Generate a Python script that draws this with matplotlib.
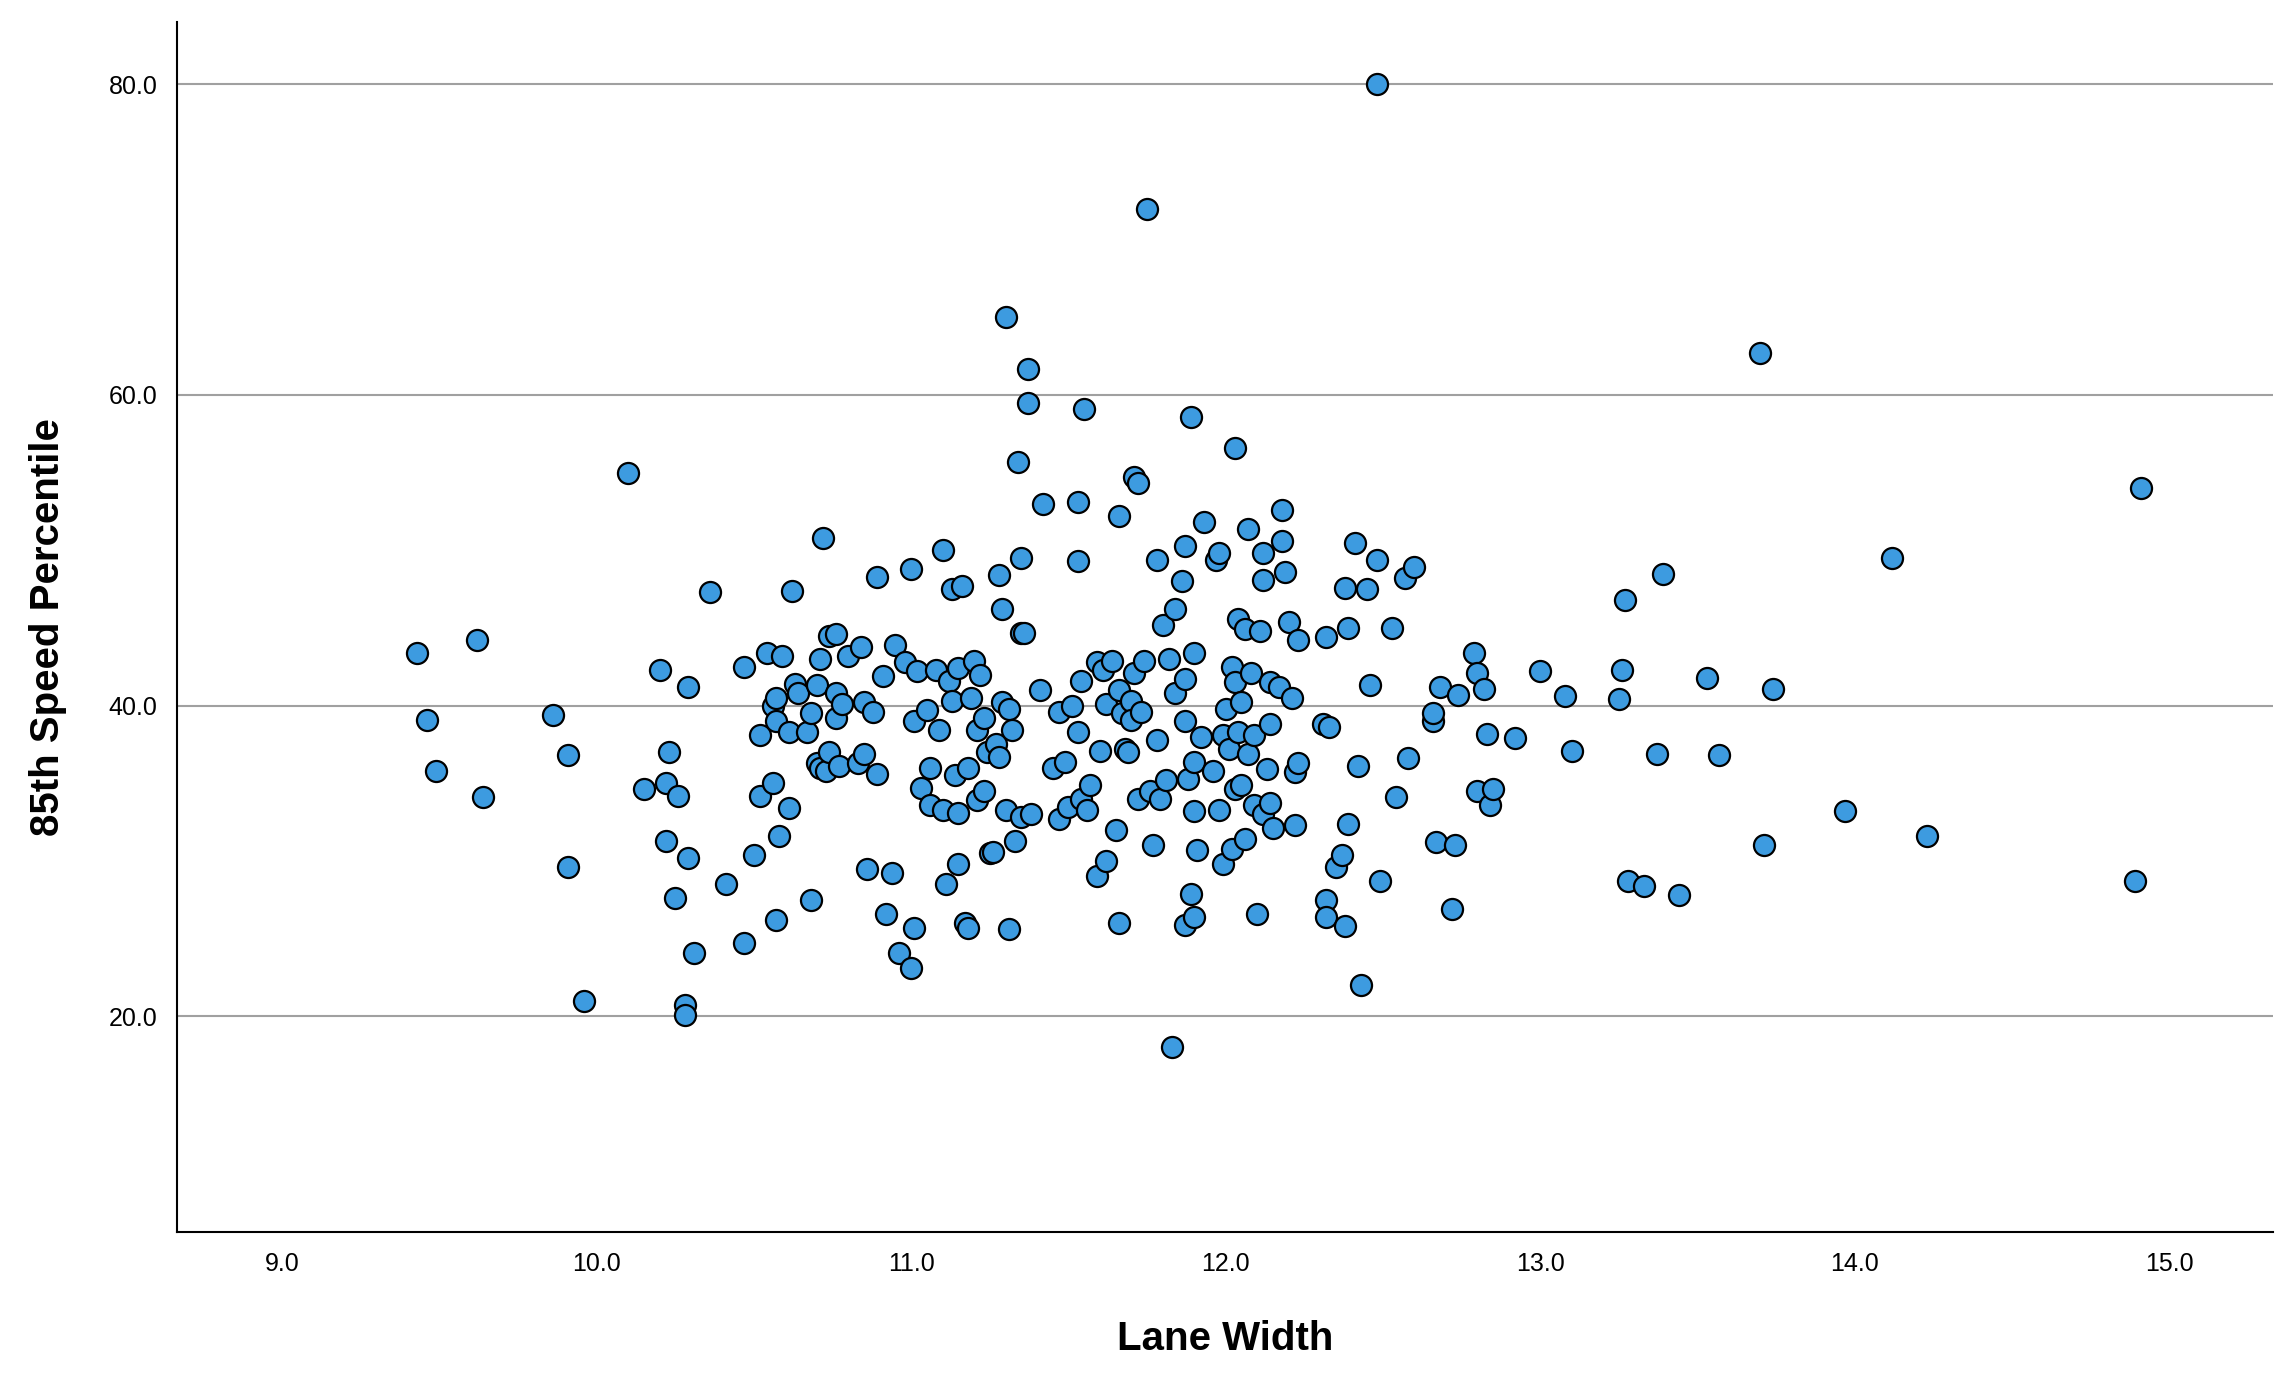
import numpy as np
import matplotlib.pyplot as plt

plt.rcParams['font.family'] = ['Liberation Sans', 'DejaVu Sans']

# Lane width (x) and 85th percentile speed (y)
pts = [
    (9.43,43.4),(9.46,39.1),(9.49,35.8),(9.62,44.2),(9.64,34.1),(9.86,39.4),(9.91,36.8),(9.91,29.6),
    (9.96,21.0),(10.1,55.0),(10.15,34.6),(10.2,42.3),(10.22,35.0),(10.23,37.0),(10.22,31.3),(10.25,27.6),
    (10.26,34.2),(10.29,41.2),(10.28,20.7),(10.28,20.1),(10.29,30.2),(10.31,24.1),(10.36,47.3),(10.41,28.5),
    (10.47,24.7),(10.47,42.5),(10.5,30.4),(10.52,34.2),(10.52,38.1),(10.54,43.4),(10.56,35.0),(10.56,40.0),
    (10.57,40.5),(10.57,39.0),(10.57,26.2),(10.58,31.6),(10.59,43.2),(10.61,33.4),(10.61,38.3),(10.62,47.4),
    (10.63,41.4),(10.64,40.8),(10.67,38.3),(10.68,27.5),(10.68,39.5),(10.7,36.3),(10.7,41.3),(10.71,36.0),
    (10.71,43.0),(10.72,50.8),(10.73,35.8),(10.74,44.5),(10.74,37.0),(10.76,44.6),(10.76,39.2),(10.76,40.8),
    (10.77,36.1),(10.78,40.1),(10.8,43.2),(10.83,36.3),(10.84,43.8),(10.85,40.2),(10.85,36.9),(10.86,29.5),
    (10.88,39.6),(10.89,48.3),(10.89,35.6),(10.91,41.9),(10.92,26.6),(10.94,29.2),(10.95,43.9),(10.96,24.1),
    (10.98,42.8),(11.0,23.1),(11.0,48.8),(11.01,25.7),(11.01,39.0),(11.02,42.2),(11.03,34.7),(11.05,39.7),
    (11.06,36.0),(11.06,33.6),(11.08,42.3),(11.09,38.4),(11.1,50.0),(11.1,33.3),(11.11,28.5),(11.12,41.6),
    (11.13,47.5),(11.13,40.3),(11.14,35.5),(11.15,42.4),(11.15,33.1),(11.15,29.8),(11.16,47.7),(11.17,26.0),
    (11.18,25.7),(11.18,36.0),(11.19,40.5),(11.2,42.9),(11.21,38.4),(11.21,33.9),(11.22,42.0),(11.23,39.2),
    (11.23,34.5),(11.24,37.0),(11.25,30.5),(11.26,30.6),(11.27,37.5),(11.28,48.4),(11.28,36.7),(11.29,46.2),
    (11.29,40.2),(11.3,65.0),(11.3,33.3),(11.31,39.8),(11.31,25.6),(11.32,38.4),(11.33,31.3),(11.34,55.7),
    (11.35,49.5),(11.35,44.7),(11.35,32.8),(11.36,44.7),(11.37,59.5),(11.37,61.7),(11.38,33.0),(11.41,41.0),
    (11.42,53.0),(11.45,36.0),(11.47,39.6),(11.47,32.7),(11.49,36.4),(11.5,33.5),(11.51,40.0),(11.53,49.3),
    (11.53,53.1),(11.53,38.3),(11.54,41.6),(11.54,34.0),(11.55,59.1),(11.56,33.3),(11.57,34.9),(11.59,42.8),
    (11.59,29.0),(11.6,37.1),(11.61,42.3),(11.62,40.1),(11.62,30.0),(11.64,42.9),(11.65,32.0),(11.66,26.0),
    (11.66,52.2),(11.66,41.0),(11.67,39.5),(11.68,37.2),(11.69,37.0),(11.7,40.3),(11.7,39.1),(11.71,54.7),
    (11.71,42.1),(11.72,34.0),(11.72,54.3),(11.73,39.6),(11.74,42.9),(11.75,72.0),(11.76,34.5),(11.77,31.0),
    (11.78,49.4),(11.78,37.8),(11.79,34.0),(11.8,45.2),(11.81,35.2),(11.82,43.0),(11.83,18.0),(11.84,40.8),
    (11.84,46.2),(11.86,48.0),(11.87,41.7),(11.87,39.0),(11.87,50.3),(11.87,25.9),(11.88,35.3),(11.89,58.6),
    (11.89,27.9),(11.9,36.4),(11.9,33.2),(11.9,26.4),(11.9,43.4),(11.91,30.7),(11.92,38.0),(11.93,51.8),
    (11.96,35.8),(11.97,49.4),(11.98,49.8),(11.98,33.3),(11.99,38.1),(11.99,29.8),(12.0,39.8),(12.01,37.2),
    (12.02,42.5),(12.02,30.8),(12.03,56.6),(12.03,41.5),(12.03,34.6),(12.04,38.3),(12.04,45.6),(12.05,40.2),
    (12.05,34.9),(12.06,44.9),(12.06,31.4),(12.07,51.4),(12.07,36.9),(12.08,42.1),(12.09,33.6),(12.09,38.1),
    (12.1,26.6),(12.11,44.8),(12.12,48.1),(12.12,33.0),(12.12,49.8),(12.13,35.9),(12.14,41.5),(12.14,38.8),
    (12.14,33.7),(12.15,32.1),(12.17,41.2),(12.18,50.6),(12.18,52.6),(12.19,48.6),(12.2,45.4),(12.21,40.5),
    (12.22,32.3),(12.22,35.7),(12.23,36.3),(12.23,44.2),(12.31,38.8),(12.32,44.4),(12.32,27.5),(12.32,26.4),
    (12.33,38.6),(12.35,29.6),(12.37,30.4),(12.38,47.6),(12.38,25.8),(12.39,45.0),(12.39,32.4),(12.41,50.5),
    (12.42,36.1),(12.43,22.0),(12.45,47.5),(12.46,41.3),(12.48,80.0),(12.48,49.4),(12.49,28.7),(12.53,45.0),
    (12.54,34.1),(12.57,48.2),(12.58,36.6),(12.6,48.9),(12.66,39.0),(12.66,39.5),(12.67,31.2),(12.68,41.2),
    (12.72,26.9),(12.73,31.0),(12.74,40.7),(12.79,43.4),(12.8,34.5),(12.8,42.1),(12.82,41.1),(12.83,38.2),
    (12.84,33.6),(12.85,34.6),(12.92,37.9),(13.0,42.2),(13.08,40.6),(13.1,37.1),(13.25,40.4),(13.26,42.3),
    (13.27,46.8),(13.28,28.7),(13.33,28.4),(13.37,36.9),(13.39,48.5),(13.44,27.8),(13.53,41.8),(13.57,36.8),
    (13.7,62.7),(13.71,31.0),(13.74,41.1),(13.97,33.2),(14.12,49.5),(14.23,31.6),(14.89,28.7),(14.91,54.0),
]
lane_width = np.array([p[0] for p in pts])
speed85 = np.array([p[1] for p in pts])

fig = plt.figure(figsize=(22.96, 13.86), dpi=100)
ax = fig.add_axes([0.077, 0.111, 0.913, 0.873])

ax.yaxis.grid(True, color='#a0a0a0', linewidth=1.5)
ax.set_axisbelow(True)
ax.scatter(lane_width, speed85, s=230, color='#3d9be0', edgecolors='black', linewidths=1.6, zorder=3)

ax.set_xlim(8.665, 15.33)
ax.set_ylim(6.1, 84.0)
ax.set_xticks(np.arange(9, 15.5, 1))
ax.set_yticks([20, 40, 60, 80])
ax.xaxis.set_major_formatter(plt.FormatStrFormatter('%.1f'))
ax.yaxis.set_major_formatter(plt.FormatStrFormatter('%.1f'))
ax.tick_params(labelsize=18, length=0, pad=14)
for s in ['top', 'right']:
    ax.spines[s].set_visible(False)
for s in ['left', 'bottom']:
    ax.spines[s].set_linewidth(1.5)

ax.set_xlabel('Lane Width', fontsize=29, fontweight='bold', labelpad=32)
ax.set_ylabel('85th Speed Percentile', fontsize=29, fontweight='bold', labelpad=30)

plt.savefig('out.png')
